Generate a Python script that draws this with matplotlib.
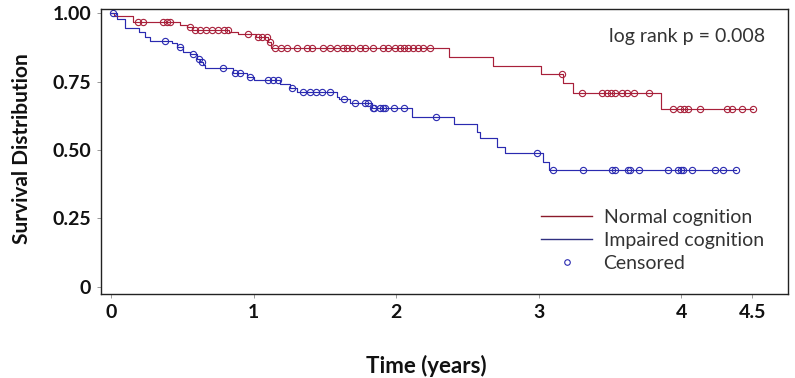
import numpy as np
import matplotlib
matplotlib.use("Agg")
import matplotlib.pyplot as plt
from matplotlib.lines import Line2D

plt.rcParams['font.family'] = ['Lato', 'DejaVu Sans']

# Normal cognition: step times (years) and survival after each step
normal_t = [0.0, 0.02, 0.155, 0.485, 0.53, 0.57, 0.83, 0.89, 1.02, 1.10, 1.12,
            2.37, 2.68, 3.02, 3.17, 3.24, 3.86, 4.505]
normal_s = [1.0, 0.99, 0.966, 0.956, 0.948, 0.938, 0.932, 0.923, 0.913, 0.895, 0.873,
            0.84, 0.808, 0.777, 0.743, 0.709, 0.65, 0.65]
normal_cens = [0.19, 0.225, 0.365, 0.39, 0.415, 0.555, 0.59, 0.625, 0.665, 0.71, 0.75,
               0.79, 0.82, 0.96, 1.03, 1.06, 1.095, 1.115, 1.15, 1.19, 1.235, 1.305,
               1.375, 1.41, 1.49, 1.54, 1.585, 1.63, 1.655, 1.69, 1.745, 1.78, 1.84,
               1.91, 1.945, 1.995, 2.03, 2.055, 2.085, 2.12, 2.155, 2.19, 2.24, 3.165,
               3.305, 3.445, 3.48, 3.51, 3.535, 3.585, 3.62, 3.67, 3.775, 3.94, 3.995,
               4.02, 4.05, 4.13, 4.32, 4.36, 4.43, 4.505]

# Impaired cognition
impaired_t = [0.0, 0.04, 0.10, 0.20, 0.24, 0.275, 0.43, 0.465, 0.505, 0.555, 0.605,
              0.625, 0.645, 0.66, 0.855, 0.955, 1.0, 1.185, 1.255, 1.305, 1.585, 1.60,
              1.68, 1.83, 2.11, 2.405, 2.57, 2.59, 2.71, 2.765, 3.03, 3.075, 4.385]
impaired_s = [1.0, 0.978, 0.944, 0.93, 0.914, 0.899, 0.889, 0.875, 0.859, 0.85, 0.834,
              0.82, 0.81, 0.798, 0.782, 0.768, 0.755, 0.741, 0.725, 0.713, 0.695, 0.686,
              0.67, 0.652, 0.622, 0.595, 0.567, 0.543, 0.512, 0.488, 0.457, 0.427, 0.427]
impaired_cens = [0.015, 0.38, 0.485, 0.575, 0.62, 0.64, 0.785, 0.87, 0.905, 0.975, 1.10,
                 1.135, 1.17, 1.27, 1.35, 1.395, 1.44, 1.48, 1.54, 1.635, 1.71, 1.78,
                 1.805, 1.835, 1.845, 1.89, 1.91, 1.925, 1.985, 2.055, 2.28, 2.99, 3.10,
                 3.31, 3.515, 3.535, 3.63, 3.64, 3.705, 3.91, 3.98, 4.0, 4.015, 4.075,
                 4.24, 4.295, 4.385]

x_ticks = [0, 1, 2, 3, 4, 4.5]
x_ticklabels = ['0', '1', '2', '3', '4', '4.5']
y_ticks = [0, 0.25, 0.5, 0.75, 1.0]
y_ticklabels = ['0', '0.25', '0.50', '0.75', '1.00']

red = '#a8203a'
blue = '#2a2ab0'


def surv_at(times, surv, pts):
    idx = np.searchsorted(np.asarray(times), np.asarray(pts), side='right') - 1
    return np.asarray(surv)[idx]


fig = plt.figure(figsize=(7.95, 3.78), dpi=100)
ax = fig.add_axes([101 / 795, 84 / 378, 687 / 795, 285 / 378])

ax.step(normal_t, normal_s, where='post', color=red, lw=0.85)
ax.step(impaired_t, impaired_s, where='post', color=blue, lw=0.85)
ax.plot(normal_cens, surv_at(normal_t, normal_s, normal_cens), 'o', mfc='none',
        mec=red, ms=4.5, mew=0.8)
ax.plot(impaired_cens, surv_at(impaired_t, impaired_s, impaired_cens), 'o', mfc='none',
        mec=blue, ms=4.5, mew=0.8)

ax.set_xlim(-0.07, 4.75)
ax.set_ylim(-0.026, 1.015)
ax.set_xticks(x_ticks)
ax.set_xticklabels(x_ticklabels, fontsize=14, fontweight='bold', color='#111111')
ax.set_yticks(y_ticks)
ax.set_yticklabels(y_ticklabels, fontsize=14, fontweight='bold', color='#111111')
ax.tick_params(length=3, width=0.6, color='#888888', pad=4)
for sp in ax.spines.values():
    sp.set_linewidth(1.0)
    sp.set_color('#222222')

ax.set_xlabel('Time (years)', fontsize=16, fontweight='bold', color='#111111')
ax.xaxis.set_label_coords(0.473, -0.215)
ax.set_ylabel('Survival Distribution', fontsize=15, fontweight='bold', color='#111111')
ax.yaxis.set_label_coords(-0.1, 0.51)

ax.text(0.966, 0.905, 'log rank p = 0.008', transform=ax.transAxes, ha='right',
        va='center', fontsize=14, color='#333333')

handles = [Line2D([0], [0], color='#8b1a2a', lw=1.0),
           Line2D([0], [0], color='#303080', lw=1.0),
           Line2D([0], [0], ls='none', marker='o', mfc='none', mec=blue, ms=4, mew=0.8)]
ax.legend(handles, ['Normal cognition', 'Impaired cognition', 'Censored'],
          loc='lower right', bbox_to_anchor=(0.99, 0.015), frameon=False,
          fontsize=14, handlelength=2.6, handletextpad=0.6, labelspacing=0.32,
          labelcolor='#333333')

fig.savefig('out.png', dpi=100)
